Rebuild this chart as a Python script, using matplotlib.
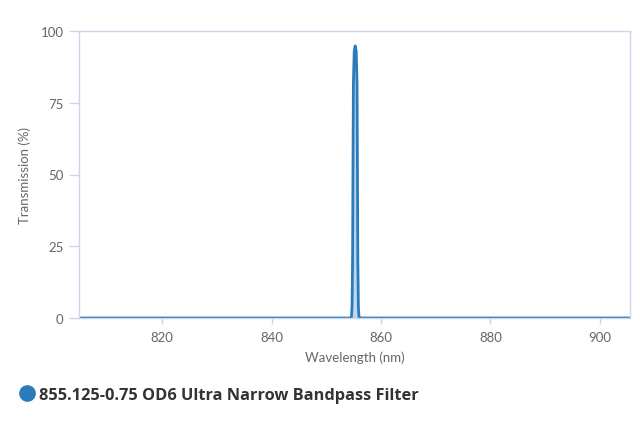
import matplotlib.pyplot as plt
from matplotlib.lines import Line2D

# Transmission curve
wavelength = [804.8, 854.5, 854.6, 854.7, 854.8, 854.88, 854.95, 855.1, 855.28,
              855.46, 855.61, 855.68, 855.76, 855.86, 855.96, 856.06, 905.5]
transmission = [0, 0, 0.5, 4, 20, 55, 82, 93, 94.8,
                 93, 82, 55, 20, 4, 0.5, 0, 0]

x_ticks = [820, 840, 860, 880, 900]
y_ticks = [0, 25, 50, 75, 100]
series_name = "855.125-0.75 OD6 Ultra Narrow Bandpass Filter"

line_color = "#2b7bba"
grid_color = "#ccd6eb"
text_color = "#666666"

fig = plt.figure(figsize=(6.4, 4.27), dpi=100)
ax = fig.add_axes([79 / 640, 1 - 319 / 427, 551 / 640, 287 / 427])

ax.fill_between(wavelength, transmission, color=line_color, alpha=0.3, lw=0)
ax.plot(wavelength, transmission, color=line_color, lw=2, solid_joinstyle="round")

ax.set_xlim(804.8, 905.5)
ax.set_ylim(0, 100)
ax.set_xticks(x_ticks)
ax.set_yticks(y_ticks)

for s in ax.spines.values():
    s.set_color(grid_color)
    s.set_linewidth(1)

font = "Lato"
ax.tick_params(axis="x", colors=grid_color, length=4, width=1, labelcolor=text_color,
               labelsize=9.5, pad=5)
ax.tick_params(axis="y", colors=grid_color, length=7, width=1, labelcolor=text_color,
               labelsize=9.5, pad=4)
for lbl in ax.get_xticklabels() + ax.get_yticklabels():
    lbl.set_family(font)

ax.set_xlabel("Wavelength (nm)", color=text_color, fontsize=9.5, labelpad=6, family=font)
ax.set_ylabel("Transmission (%)", color=text_color, fontsize=9.5, family=font)
ax.yaxis.set_label_coords((31 - 79) / 551, 0.5)

handle = Line2D([], [], marker="o", color="none", markerfacecolor=line_color,
                markeredgecolor=line_color, markersize=11)
fig.legend([handle], [series_name], loc="center left", bbox_to_anchor=(1 / 640, 1 - 396 / 427),
           frameon=False, handletextpad=0.0, handlelength=1.4,
           prop={"family": "Open Sans", "weight": "bold", "size": 11.8})
leg_text = fig.legends[0].get_texts()[0]
leg_text.set_color("#333333")

fig.savefig("out.png", dpi=100)
